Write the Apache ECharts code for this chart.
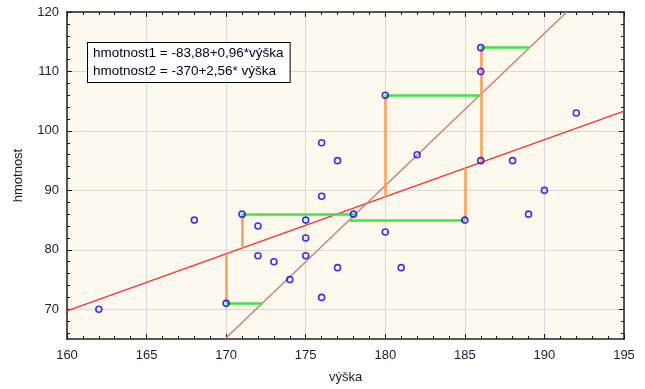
<!DOCTYPE html>
<html>
<head>
<meta charset="utf-8">
<script src="https://cdn.jsdelivr.net/npm/echarts@6/dist/echarts.min.js"></script>
<style>
  html, body { margin: 0; padding: 0; background: #fff; }
  #chart { width: 645px; height: 389px; }
</style>
</head>
<body>
<div id="chart"></div>
<script>
// Measured heights (cm) and weights (kg)
const vyska = [162, 168, 170, 171, 172, 172, 173, 174, 175, 175, 175, 176, 176, 176, 177, 177, 178, 180, 180, 181, 182, 185, 186, 186, 186, 188, 189, 190, 192];
const hmotnost = [70, 85, 71, 86, 84, 79, 78, 75, 85, 82, 79, 98, 89, 72, 95, 77, 86, 106, 83, 77, 96, 85, 114, 110, 95, 95, 86, 90, 103];

// Points whose residuals to both regression lines are shown
const residX = [170, 171, 180, 185, 186];
const residY = [71, 86, 106, 85, 114];

// Regression coefficients: hmotnost = a + b * výška
const fit1 = { a: -83.88, b: 0.96 };
const fit2 = { a: -370, b: 2.56 };

// Axis ranges and tick positions
const xRange = [160, 195];
const yRange = [65, 120];
const yMajor = [70, 80, 90, 100, 110, 120];
const yMinor = [66, 68, 72, 74, 76, 78, 82, 84, 86, 88, 92, 94, 96, 98, 102, 104, 106, 108, 112, 114, 116, 118];

const eq1 = 'hmotnost1 = -83,88+0,96*výška';
const eq2 = 'hmotnost2 = -370+2,56* výška';

const FONT = '"Liberation Sans", Arial, sans-serif';
const labelColor = '#1c1c3a';

const points = vyska.map((x, i) => [x, hmotnost[i]]);
const f1 = x => fit1.a + fit1.b * x;
const inv2 = y => (y - fit2.a) / fit2.b;

const line1 = [[xRange[0], f1(xRange[0])], [xRange[1], f1(xRange[1])]];
const line2 = [[inv2(yRange[0]), yRange[0]], [inv2(yRange[1]), yRange[1]]];

const vertical = residX.map((x, i) => ({ coords: [[x, residY[i]], [x, f1(x)]] }));
const horizontal = residX.map((x, i) => ({ coords: [[x, residY[i]], [inv2(residY[i]), residY[i]]] }));

const chart = echarts.init(document.getElementById('chart'), null, { renderer: 'canvas' });

const frameLine = { show: true, lineStyle: { color: '#202020', width: 1.5 } };

function yAxisBase(pos) {
  return {
    type: 'value', position: pos, min: yRange[0], max: yRange[1],
    axisLine: frameLine,
    splitLine: { show: false },
    axisLabel: { show: false },
    axisTick: { show: false }
  };
}

const option = {
  backgroundColor: '#ffffff',
  animation: false,
  grid: { left: 67, top: 12, width: 557, height: 330, show: true, backgroundColor: '#fef9ee', borderWidth: 0 },
  xAxis: [
    {
      type: 'value', position: 'bottom', min: xRange[0], max: xRange[1], interval: 5,
      name: 'výška', nameLocation: 'middle', nameGap: 32,
      nameTextStyle: { fontFamily: FONT, fontSize: 13, color: labelColor },
      axisLine: frameLine,
      axisTick: { show: true, inside: true, length: 5, lineStyle: { color: '#1a1a1a' } },
      minorTick: { show: true, splitNumber: 5, length: 3, lineStyle: { color: '#1a1a1a' } },
      axisLabel: { fontFamily: FONT, fontSize: 13, color: labelColor, margin: 10 },
      splitLine: { show: true, lineStyle: { color: '#d8d8d8', width: 1 } }
    },
    {
      type: 'value', position: 'top', min: xRange[0], max: xRange[1], interval: 5,
      axisLine: frameLine,
      axisTick: { show: true, inside: true, length: 5, lineStyle: { color: '#1a1a1a' } },
      minorTick: { show: true, splitNumber: 5, length: 3, lineStyle: { color: '#1a1a1a' } },
      axisLabel: { show: false },
      splitLine: { show: false }
    }
  ],
  yAxis: [
    Object.assign(yAxisBase('left'), {
      name: 'hmotnost', nameLocation: 'middle', nameGap: 42, nameRotate: 90,
      nameTextStyle: { fontFamily: FONT, fontSize: 13, color: labelColor },
      axisLabel: { show: true, customValues: yMajor, fontFamily: FONT, fontSize: 13, color: labelColor, margin: 8 },
      axisTick: { show: true, inside: true, length: 5, customValues: yMajor, lineStyle: { color: '#1a1a1a' } },
      splitLine: { show: true, lineStyle: { color: '#d8d8d8', width: 1 } }
    }),
    Object.assign(yAxisBase('left'), {
      axisLine: { show: false },
      axisTick: { show: true, inside: true, length: 3, customValues: yMinor, lineStyle: { color: '#1a1a1a' } }
    }),
    Object.assign(yAxisBase('right'), {
      axisTick: { show: true, inside: true, length: 5, customValues: yMajor, lineStyle: { color: '#1a1a1a' } }
    }),
    Object.assign(yAxisBase('right'), {
      axisLine: { show: false },
      axisTick: { show: true, inside: true, length: 3, customValues: yMinor, lineStyle: { color: '#1a1a1a' } }
    })
  ],
  series: [
    {
      type: 'line', data: line1, symbol: 'none', silent: true,
      lineStyle: { color: '#ff3030', width: 1.3 }, z: 2
    },
    {
      type: 'line', data: line2, symbol: 'none', silent: true,
      lineStyle: { color: '#c98080', width: 1.5 }, z: 2
    },
    {
      type: 'lines', coordinateSystem: 'cartesian2d', data: vertical, silent: true,
      lineStyle: { color: '#f4a25e', width: 2.6, opacity: 1 }, z: 3
    },
    {
      type: 'lines', coordinateSystem: 'cartesian2d', data: horizontal, silent: true,
      lineStyle: { color: '#3ee63e', width: 2.6, opacity: 1 }, z: 3
    },
    {
      type: 'scatter', data: points, symbol: 'circle', symbolSize: 6,
      itemStyle: { color: 'rgba(0,0,0,0)', borderColor: '#0000ff', borderWidth: 1.6 }, z: 5
    }
  ],
  graphic: [
    {
      type: 'text', left: 87, top: 42, z: 10,
      style: {
        text: eq1 + '\n' + eq2,
        font: '13.5px ' + FONT,
        fill: '#000022',
        lineHeight: 18.5,
        backgroundColor: '#ffffff',
        borderColor: '#000000',
        borderWidth: 1,
        padding: [1, 6, 1, 5]
      }
    }
  ]
};

chart.setOption(option);
</script>
</body>
</html>
